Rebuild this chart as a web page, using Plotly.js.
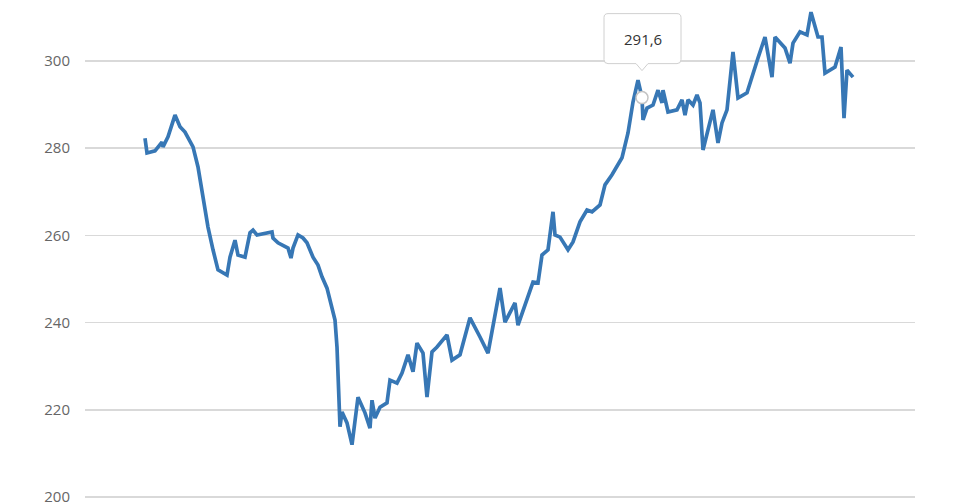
<!DOCTYPE html>
<html>
<head>
<meta charset="utf-8">
<script src="https://cdn.plot.ly/plotly-3.0.1.min.js"></script>
<style>
html,body{margin:0;padding:0;background:#fff;}
#chart{width:962px;height:503px;}
</style>
</head>
<body>
<div id="chart"></div>
<script>
// Day offsets of each observation
const days = [0,2,10,13,17,18,23,30,35,40,48,53,58,63,68,73,82,85,90,93,100,105,108,112,127,128,133,143,146,148,153,158,162,168,173,177,182,187,190,192,193,194,195,197,202,207,213,220,225,227,230,235,242,245,252,257,263,268,272,278,282,287,292,302,307,315,325,335,343,355,360,370,373,388,393,397,403,408,410,415,423,428,435,442,447,455,460,467,477,483,488,493,497,498,502,508,513,517,518,523,532,537,540,543,548,552,555,558,563,568,573,577,582,588,593,602,613,620,627,630,640,645,648,655,662,666,673,677,680,690,696,699,702,708];
// Closing values
const values = [282.3,278.9,279.4,280.3,281.4,280.3,282.6,287.6,284.9,283.7,280.3,275.7,268.8,261.9,256.7,252.1,250.9,255.0,258.9,255.5,255.0,260.6,261.2,260.1,260.8,259.4,258.3,257.1,254.8,257.1,260.1,259.4,258.3,255.0,253.2,250.5,247.9,243.6,240.6,234.4,226.8,220.6,216.1,219.5,217.0,212.0,222.9,219.3,215.8,222.2,218.1,220.6,221.6,226.8,226.1,228.4,232.6,228.7,235.3,233.0,222.9,233.3,234.4,237.2,231.4,232.6,241.1,236.7,233.0,247.9,240.1,244.5,239.4,249.3,249.1,255.5,256.7,265.4,260.1,259.6,256.7,258.5,263.1,265.8,265.4,267.0,271.6,273.9,277.8,283.5,290.6,295.6,291.6,286.5,289.2,289.9,293.3,290.4,293.3,288.3,288.8,291.1,287.6,291.1,289.9,292.2,290.4,279.6,284.2,288.8,281.2,285.8,288.8,302.1,291.5,292.7,300.7,305.5,296.3,305.5,303.0,299.5,304.1,306.7,306.0,311.2,305.5,305.5,297.2,298.6,303.2,286.9,297.9,296.3];
const yTicks = [200,220,240,260,280,300];
const hoverIndex = 92; // highlighted point (tooltip)
const hoverLabel = "291,6";

const traces = [
  {
    x: days, y: values, type: 'scatter', mode: 'lines',
    line: {color: '#3777b5', width: 3.7, shape: 'linear'},
    hoverinfo: 'none'
  },
  {
    x: [days[hoverIndex]], y: [values[hoverIndex]], type: 'scatter', mode: 'markers',
    marker: {size: 12, color: '#ffffff', line: {color: '#c4c4c4', width: 1.5}},
    hoverinfo: 'none'
  }
];

const layout = {
  width: 962, height: 503,
  margin: {l: 85, r: 47, t: 0, b: 0, pad: 0},
  paper_bgcolor: '#ffffff', plot_bgcolor: '#ffffff',
  showlegend: false,
  xaxis: {range: [-60, 770], showgrid: false, zeroline: false, showticklabels: false, showline: false, ticks: ''},
  yaxis: {
    range: [198.62, 313.99], tickvals: yTicks, ticktext: yTicks.map(String),
    showgrid: true, gridcolor: '#d9d9d9', gridwidth: 1.5, zeroline: false, showline: false, ticks: '',
    ticklabelstandoff: 14, ticklabeloverflow: 'allow',
    tickfont: {family: 'Open Sans, DejaVu Sans, sans-serif', size: 15, color: '#666666'}
  },
  shapes: [
    {
      type: 'path', xref: 'x', yref: 'y', layer: 'above',
      xsizemode: 'pixel', ysizemode: 'pixel',
      xanchor: days[hoverIndex], yanchor: values[hoverIndex],
      path: 'M -34,34 L -6,34 L 0,27 L 6,34 L 35,34 Q 39,34 39,38 L 39,80 Q 39,84 35,84 L -34,84 Q -38,84 -38,80 L -38,38 Q -38,34 -34,34 Z',
      fillcolor: '#ffffff', line: {color: '#d0d0d0', width: 1}
    }
  ],
  annotations: [
    {
      x: days[hoverIndex], y: values[hoverIndex], xref: 'x', yref: 'y',
      text: hoverLabel, showarrow: false, yshift: 59, xshift: 1,
      font: {family: 'Open Sans, DejaVu Sans, sans-serif', size: 15, color: '#333333'}
    }
  ]
};

Plotly.newPlot('chart', traces, layout, {staticPlot: true, displayModeBar: false});
</script>
</body>
</html>
